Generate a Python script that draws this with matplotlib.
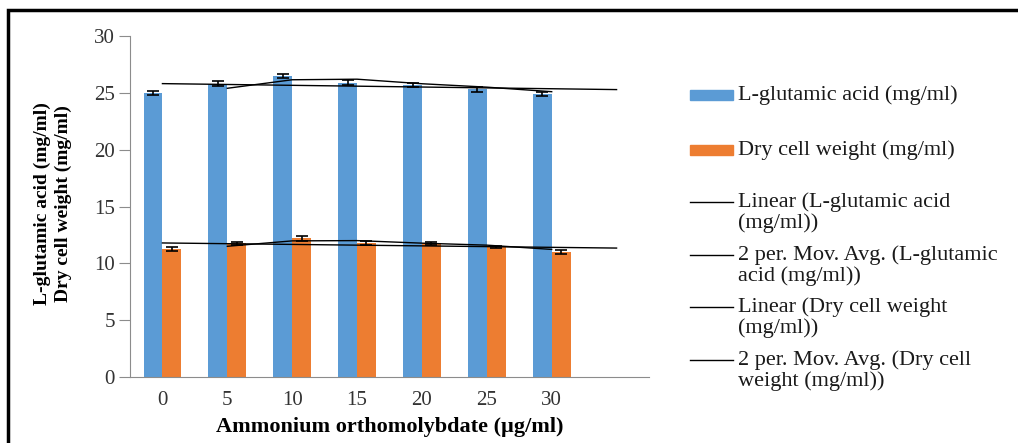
import numpy as np
import matplotlib
matplotlib.use("Agg")
import matplotlib.pyplot as plt
from matplotlib.lines import Line2D
from matplotlib.patches import Rectangle

# Ammonium orthomolybdate dose levels (µg/ml)
doses = ["0", "5", "10", "15", "20", "25", "30"]
glutamic = [25.0, 25.8, 26.5, 25.9, 25.7, 25.3, 24.9]
glutamic_err = [0.2, 0.2, 0.2, 0.2, 0.2, 0.2, 0.2]
dry_weight = [11.25, 11.75, 12.2, 11.8, 11.75, 11.45, 11.0]
dry_weight_err = [0.2, 0.1, 0.2, 0.2, 0.1, 0.1, 0.15]

legend_labels = [
    "L-glutamic acid (mg/ml)",
    "Dry cell weight (mg/ml)",
    "Linear (L-glutamic acid\n(mg/ml))",
    "2 per. Mov. Avg. (L-glutamic\nacid (mg/ml))",
    "Linear (Dry cell weight\n(mg/ml))",
    "2 per. Mov. Avg. (Dry cell\nweight (mg/ml))",
]

BLUE = "#5B9BD5"
ORANGE = "#ED7D31"
SERIF = ["Liberation Serif", "DejaVu Serif"]

W, H = 1018, 443
fig = plt.figure(figsize=(W / 100, H / 100), dpi=100)
ax = fig.add_axes([130 / W, 1 - 377 / H, 519 / W, (377 - 36) / H])

x = np.arange(len(doses))
bw = 0.29
ax.bar(x - bw / 2, glutamic, bw, color=BLUE, yerr=glutamic_err,
       error_kw=dict(ecolor="black", elinewidth=1.2, capsize=4, capthick=1.2), zorder=2)
ax.bar(x + bw / 2, dry_weight, bw, color=ORANGE, yerr=dry_weight_err,
       error_kw=dict(ecolor="black", elinewidth=1.2, capsize=4, capthick=1.2), zorder=2)


def linear_trend(values):
    coef = np.polyfit(x, values, 1)
    xt = np.array([0, len(values)])  # one period forward
    return xt, np.polyval(coef, xt)


def moving_avg(values):
    v = np.asarray(values)
    return x[1:], (v[1:] + v[:-1]) / 2


for series in (glutamic, dry_weight):
    xt, yt = linear_trend(series)
    ax.plot(xt, yt, color="black", lw=1.0, zorder=3)
    xm, ym = moving_avg(series)
    ax.plot(xm, ym, color="black", lw=1.0, zorder=3)

ax.set_xlim(-0.5, 7.5)
ax.set_ylim(0, 30)
ax.set_yticks(np.arange(0, 31, 5))
ax.set_xticks(x)
ax.set_xticklabels(doses)
for s in ("top", "right"):
    ax.spines[s].set_visible(False)
ax.spines["left"].set_color("#8c8c8c")
ax.spines["bottom"].set_color("#8c8c8c")
ax.tick_params(axis="y", length=8, color="#8c8c8c", pad=3)
ax.tick_params(axis="x", length=0, pad=10)
for lab in ax.get_xticklabels() + ax.get_yticklabels():
    lab.set_fontfamily(SERIF)
    lab.set_fontsize(15)
    lab.set_color("#333333")

ax.set_xlabel("Ammonium orthomolybdate (µg/ml)", fontfamily=SERIF,
              fontsize=16, fontweight="bold", labelpad=5)
fig.text(53 / W, 1 - 204 / H, "L-glutamic acid (mg/ml)\nDry cell weight (mg/ml)",
         rotation=90, ha="center", va="center", fontfamily=SERIF,
         fontsize=14, fontweight="bold", linespacing=1.25)

# Legend entries
x0, x1, xt = 690 / W, 733 / W, 738 / W
ys = [95, 150, 202, 255, 307, 360]
for i, (lab, yp) in enumerate(zip(legend_labels, ys)):
    yf = 1 - yp / H
    if i < 2:
        fig.add_artist(Rectangle((x0, yf - 5 / H), x1 - x0, 10 / H,
                                 color=BLUE if i == 0 else ORANGE,
                                 transform=fig.transFigure))
    else:
        fig.add_artist(Line2D([x0, x1], [yf, yf], color="black", lw=1.0,
                              transform=fig.transFigure))
    fig.text(xt, yf + 10 / H, lab, ha="left", va="top", fontfamily=SERIF,
             fontsize=16, color="#1a1a1a", linespacing=1.1)

# Outer frame
fig.add_artist(Rectangle((8 / W, -0.1), 1.2, 1 - 10 / H + 0.1, fill=False,
                         edgecolor="black", lw=2.5, transform=fig.transFigure))

fig.savefig("out.png", dpi=100)
